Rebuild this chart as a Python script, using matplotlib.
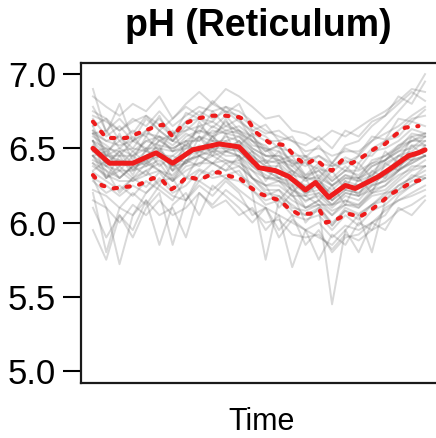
import matplotlib
matplotlib.use("Agg")
import matplotlib.pyplot as plt

plt.rcParams['font.family'] = ['Liberation Sans', 'DejaVu Sans']

title = "pH (Reticulum)"
xlabel = "Time"
yticks = [5.0, 5.5, 6.0, 6.5, 7.0]
ytick_labels = ["5.0", "5.5", "6.0", "6.5", "7.0"]

trace_t = [0, 4, 8, 12, 16, 20, 24, 28, 32, 36, 40, 44, 48, 52, 56, 60, 64, 68, 72, 76, 80, 84, 88, 92, 96, 100]
traces = [
    [6.78,6.62,6.70,6.60,6.72,6.66,6.58,6.74,6.70,6.82,6.74,6.80,6.62,6.66,6.55,6.58,6.44,6.52,6.40,6.50,6.46,6.58,6.56,6.70,6.68,6.76],
    [6.62,6.55,6.58,6.50,6.62,6.55,6.60,6.62,6.70,6.64,6.72,6.62,6.58,6.48,6.52,6.40,6.40,6.36,6.34,6.42,6.36,6.48,6.50,6.55,6.63,6.60],
    [6.34,6.28,6.22,6.30,6.24,6.34,6.22,6.30,6.36,6.32,6.40,6.32,6.26,6.18,6.22,6.10,6.08,6.12,5.98,6.10,6.06,6.12,6.20,6.22,6.32,6.30],
    [6.55,6.30,6.45,6.32,6.50,6.38,6.45,6.40,6.58,6.45,6.60,6.42,6.48,6.28,6.40,6.20,6.30,6.15,6.25,6.12,6.30,6.20,6.40,6.35,6.52,6.45],
    [6.20,5.80,6.10,6.05,6.15,5.85,6.12,6.20,6.05,6.25,6.18,6.10,6.00,6.10,5.90,6.02,5.95,5.75,5.92,5.85,6.00,5.95,6.10,6.15,6.18,6.22],
    [6.48,6.50,6.38,6.48,6.40,6.56,6.48,6.52,6.58,6.50,6.58,6.55,6.48,6.40,6.42,6.35,6.28,6.32,6.25,6.30,6.30,6.34,6.42,6.48,6.50,6.58],
    [6.85,6.78,6.72,6.80,6.75,6.85,6.70,6.80,6.88,6.80,6.90,6.85,6.78,6.70,6.72,6.62,6.60,6.55,6.62,6.58,6.64,6.70,6.75,6.82,6.90,6.88],
    [6.42,6.38,6.30,6.38,6.32,6.45,6.38,6.40,6.48,6.45,6.48,6.50,6.38,6.32,6.28,6.25,6.14,6.20,6.12,6.20,6.18,6.22,6.30,6.36,6.40,6.45],
    [6.28,6.20,6.25,6.18,6.28,6.22,6.15,6.30,6.28,6.35,6.30,6.28,6.22,6.12,6.15,6.05,6.02,6.05,5.95,6.05,5.98,6.08,6.12,6.20,6.25,6.30],
    [6.58,6.52,6.45,6.55,6.50,6.58,6.52,6.60,6.55,6.65,6.60,6.62,6.52,6.50,6.40,6.42,6.30,6.38,6.28,6.35,6.32,6.40,6.42,6.52,6.55,6.60],
    [6.40,6.35,6.20,6.30,6.35,6.25,6.40,6.30,6.45,6.40,6.35,6.45,6.30,6.25,6.10,6.20,6.00,6.10,5.45,5.95,6.05,5.80,6.15,6.25,6.30,6.38],
    [6.70,6.58,6.65,6.55,6.62,6.70,6.60,6.68,6.75,6.70,6.75,6.68,6.62,6.58,6.50,6.48,6.42,6.45,6.38,6.44,6.40,6.50,6.55,6.62,6.70,6.72],
    [6.40,6.30,6.35,6.28,6.35,6.40,6.28,6.38,6.40,6.45,6.40,6.42,6.30,6.25,6.25,6.18,6.10,6.15,6.08,6.12,6.12,6.20,6.22,6.30,6.38,6.38],
    [6.10,5.90,6.05,5.95,6.15,6.05,6.10,5.90,6.20,6.10,6.15,6.05,6.10,5.95,6.05,5.70,5.95,5.90,5.85,5.95,5.80,6.00,5.95,6.10,6.05,6.15],
    [6.50,6.45,6.42,6.40,6.45,6.48,6.42,6.50,6.50,6.55,6.52,6.52,6.45,6.38,6.35,6.30,6.24,6.26,6.20,6.25,6.25,6.30,6.35,6.42,6.46,6.50],
    [6.75,6.70,6.62,6.68,6.72,6.62,6.70,6.78,6.72,6.80,6.75,6.72,6.65,6.60,6.62,6.55,6.52,6.58,6.50,6.62,6.58,6.68,6.72,6.85,6.80,6.95],
    [6.22,6.18,6.10,6.20,6.12,6.25,6.18,6.15,6.28,6.22,6.30,6.22,6.15,6.10,6.05,6.00,5.95,6.00,5.90,5.98,5.95,6.00,6.08,6.15,6.20,6.25],
    [6.65,6.45,6.60,6.42,6.58,6.48,6.62,6.45,6.68,6.55,6.70,6.52,6.60,6.40,6.48,6.32,6.42,6.25,6.35,6.22,6.40,6.30,6.48,6.40,6.58,6.52],
    [6.90,6.60,6.80,6.55,6.70,6.62,6.55,6.65,6.60,6.75,6.65,6.70,6.55,6.48,6.52,6.38,6.45,6.30,6.40,6.35,6.45,6.55,6.65,6.75,6.85,7.00],
    [5.95,5.75,6.05,5.90,6.10,6.20,5.85,6.15,6.25,6.18,6.28,6.20,6.05,6.10,5.95,6.05,5.85,5.95,5.80,5.90,5.92,6.00,6.05,6.18,6.25,6.30],
    [6.45,6.48,6.35,6.45,6.38,6.50,6.35,6.45,6.52,6.48,6.55,6.48,6.40,6.35,6.30,6.28,6.20,6.25,6.15,6.22,6.20,6.28,6.32,6.38,6.45,6.48],
    [6.55,6.38,6.48,6.40,6.48,6.45,6.45,6.52,6.48,6.58,6.50,6.55,6.45,6.38,6.38,6.30,6.25,6.28,6.18,6.28,6.25,6.32,6.38,6.45,6.48,6.55],
    [6.35,6.42,6.30,6.38,6.42,6.35,6.32,6.42,6.45,6.50,6.45,6.45,6.35,6.30,6.28,6.22,6.15,6.18,6.10,6.18,6.15,6.25,6.28,6.35,6.42,6.45],
    [6.60,6.45,6.50,6.45,6.55,6.52,6.50,6.55,6.62,6.58,6.62,6.60,6.50,6.45,6.45,6.35,6.30,6.30,6.25,6.32,6.28,6.38,6.42,6.50,6.55,6.58],
    [6.60,6.62,6.50,6.58,6.48,6.62,6.55,6.52,6.65,6.58,6.68,6.60,6.55,6.52,6.42,6.45,6.32,6.40,6.30,6.38,6.30,6.42,6.45,6.50,6.60,6.58],
    [6.45,6.30,6.38,6.30,6.40,6.35,6.28,6.42,6.38,6.48,6.42,6.40,6.35,6.25,6.28,6.18,6.18,6.12,6.12,6.15,6.12,6.22,6.25,6.32,6.36,6.42],
    [6.65,6.70,6.55,6.62,6.58,6.72,6.55,6.68,6.70,6.68,6.78,6.70,6.60,6.55,6.55,6.45,6.45,6.40,6.38,6.40,6.45,6.45,6.55,6.58,6.68,6.65],
    [6.30,6.25,6.18,6.25,6.20,6.30,6.20,6.25,6.35,6.30,6.32,6.35,6.22,6.15,6.18,6.08,6.05,6.08,5.98,6.08,6.02,6.12,6.15,6.22,6.28,6.32],
    [6.52,6.40,6.48,6.35,6.45,6.52,6.35,6.55,6.45,6.58,6.48,6.55,6.40,6.42,6.30,6.35,6.18,6.30,6.15,6.28,6.18,6.35,6.30,6.45,6.42,6.52],
    [6.55,6.45,6.45,6.45,6.50,6.50,6.48,6.50,6.58,6.55,6.55,6.58,6.48,6.42,6.40,6.32,6.30,6.28,6.22,6.30,6.28,6.32,6.40,6.45,6.52,6.52],
    [6.15,6.10,6.00,6.12,6.05,6.15,6.05,6.10,6.20,6.12,6.22,6.15,6.08,6.00,6.02,5.92,5.90,5.92,5.82,5.92,5.88,5.95,6.00,6.08,6.12,6.18],
    [6.72,6.68,6.62,6.70,6.65,6.75,6.65,6.72,6.78,6.75,6.78,6.75,6.68,6.62,6.58,6.55,6.48,6.50,6.45,6.48,6.48,6.55,6.60,6.65,6.72,6.78],
    [6.48,6.40,6.42,6.36,6.42,6.45,6.38,6.45,6.48,6.50,6.50,6.48,6.40,6.35,6.30,6.26,6.20,6.22,6.15,6.22,6.20,6.26,6.32,6.38,6.44,6.48],
    [6.55,6.50,6.48,6.50,6.48,6.55,6.50,6.55,6.55,6.62,6.60,6.58,6.50,6.45,6.42,6.38,6.30,6.35,6.25,6.32,6.30,6.38,6.42,6.48,6.55,6.55],
    [6.38,6.32,6.28,6.28,6.32,6.35,6.28,6.35,6.40,6.40,6.42,6.38,6.30,6.22,6.22,6.15,6.10,6.12,6.05,6.12,6.10,6.18,6.20,6.28,6.35,6.38],
    [6.60,6.55,6.52,6.55,6.60,6.58,6.55,6.62,6.65,6.68,6.62,6.65,6.58,6.50,6.48,6.42,6.38,6.45,6.40,6.52,6.55,6.65,6.72,6.80,6.88,6.82],
    [6.45,6.35,6.30,6.38,6.40,6.45,6.30,6.42,6.45,6.40,6.48,6.45,6.20,5.75,6.15,6.25,6.10,6.15,6.05,6.15,6.10,6.20,6.25,6.35,6.40,6.45],
    [6.30,6.10,5.72,6.05,6.20,6.28,6.30,6.15,6.32,6.40,6.35,6.38,6.30,6.20,6.18,6.12,6.05,6.10,6.00,6.08,6.05,6.12,6.18,6.25,6.30,6.35],
    [6.62,6.48,6.55,6.48,6.55,6.58,6.48,6.58,6.62,6.60,6.65,6.62,6.55,6.45,6.45,6.40,6.32,6.35,6.28,6.35,6.35,6.40,6.45,6.52,6.58,6.60],
    [6.45,6.38,6.35,6.35,6.38,6.42,6.35,6.40,6.45,6.48,6.48,6.45,6.38,6.30,6.30,6.22,6.18,6.20,6.12,6.20,6.18,6.25,6.28,6.35,6.42,6.45],
]

mean_t = [0, 5, 12, 19, 24, 30, 34, 38, 44, 50, 55, 59, 64, 67, 71, 76, 79, 86, 90, 95, 98, 100]
mean_v = [6.50,6.40,6.40,6.47,6.40,6.49,6.51,6.53,6.51,6.37,6.35,6.31,6.22,6.27,6.17,6.25,6.23,6.31,6.37,6.45,6.47,6.49]

upper_t = [0,4,10,18,21,24,27,31,36,40,44,47,49,53,58,61,64,67,70,72,75,78,81,85,88,91,94,98]
upper_v = [6.68,6.57,6.57,6.64,6.66,6.58,6.66,6.70,6.72,6.72,6.71,6.68,6.61,6.54,6.52,6.44,6.39,6.43,6.37,6.35,6.42,6.40,6.44,6.50,6.53,6.59,6.64,6.65]

lower_t = [0,2.7,6,13.3,18.1,21.1,23.2,25.6,28.3,32.2,36.1,37.7,41.6,43.7,46.7,49.7,53.3,56.3,58.7,61.7,65.4,68.4,70.2,73.2,76.8,80.4,83.4,86.4,89.5,92.8,95.8,99.1]
lower_v = [6.32,6.25,6.23,6.25,6.30,6.28,6.22,6.25,6.31,6.29,6.33,6.34,6.31,6.31,6.25,6.20,6.17,6.15,6.10,6.06,6.06,6.08,6.00,6.02,6.06,6.04,6.08,6.13,6.19,6.23,6.27,6.29]

fig = plt.figure(figsize=(4.36, 4.38), dpi=100)
ax = fig.add_axes([81/436, 1 - 383/438, 1 - 81/436, 320/438])

for tr in traces:
    ax.plot(trace_t, tr, color='#606060', alpha=0.24, lw=1.4, solid_joinstyle='round')

red = '#ee1c1c'
ax.plot(mean_t, mean_v, color=red, lw=3.6, solid_capstyle='round', solid_joinstyle='round')
for tt, vv in ((upper_t, upper_v), (lower_t, lower_v)):
    ax.plot(tt, vv, color=red, lw=3.0, linestyle=(0, (0.8, 2.3)), dash_capstyle='round')

ax.set_xlim(-3.6, 103.3)
ax.set_ylim(4.92, 7.075)
ax.set_yticks(yticks)
ax.set_yticklabels(ytick_labels)
ax.set_xticks([])
ax.tick_params(axis='y', direction='out', length=13, width=1.5, pad=5, labelsize=25)
for s in ('left', 'top', 'bottom'):
    ax.spines[s].set_linewidth(1.6)
    ax.spines[s].set_color('#1a1a1a')
ax.spines['right'].set_visible(False)

fig.text(258/436, 1 - 36/438, title, ha='center', va='baseline', fontsize=27, fontweight='bold')
fig.text(262/436, 1 - 430/438, xlabel, ha='center', va='baseline', fontsize=22)

fig.savefig('out.png', dpi=100)
